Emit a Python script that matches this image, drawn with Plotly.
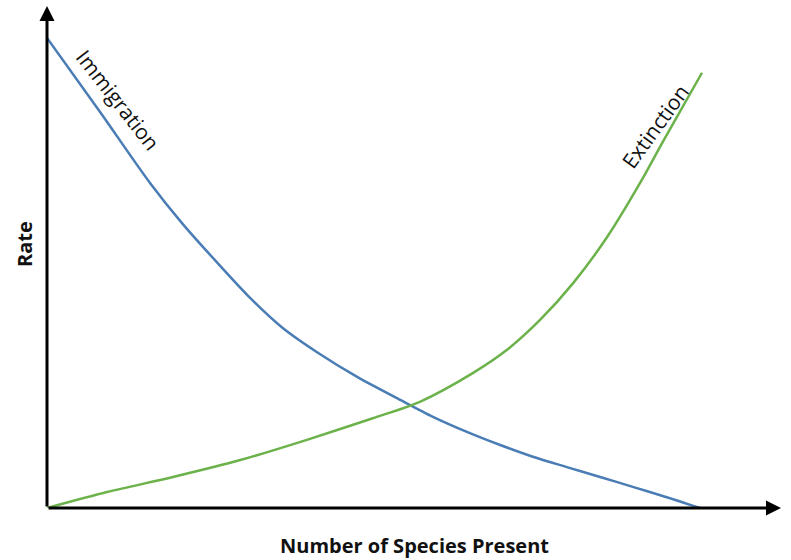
import plotly.graph_objects as go

# Number of species present (relative units) and rates (relative units)
immigration_x = [0, 8.1, 15.8, 20.8, 26.0, 31.1, 36.1, 41.3, 47.5, 54.1, 59.1, 64.3,
                 69.4, 74.4, 79.6, 84.7, 89.7, 94.9, 100]
immigration_y = [100, 84.3, 69.1, 60.4, 52.3, 44.7, 38.3, 33.2, 27.9, 23.0, 19.4, 16.2,
                 13.4, 10.9, 8.7, 6.6, 4.5, 2.3, 0]

extinction_x = [0, 9.2, 19.3, 29.6, 39.8, 49.9, 57.1, 65.2, 70.4, 75.5, 80.6, 85.8,
                90.8, 94.3, 100.3]
extinction_y = [0, 3.4, 6.6, 10.2, 14.5, 19.1, 22.6, 28.7, 33.6, 40.0, 47.9, 57.7,
                69.1, 77.9, 92.6]

curve_labels = ["Immigration", "Extinction"]
x_title = "Number of Species Present"
y_title = "Rate"

X_MAX = 112.4
Y_MAX = 106.8

fig = go.Figure()
fig.add_trace(go.Scatter(x=immigration_x, y=immigration_y, mode="lines",
                         line=dict(color="#4A7DB5", width=2.5, shape="spline", smoothing=0.8),
                         name=curve_labels[0], hoverinfo="skip"))
fig.add_trace(go.Scatter(x=extinction_x, y=extinction_y, mode="lines",
                         line=dict(color="#6CB24A", width=2.5, shape="spline", smoothing=0.8),
                         name=curve_labels[1], hoverinfo="skip"))

# Axis arrows
fig.add_annotation(x=0, y=Y_MAX, ax=0, ay=0, xref="x", yref="y", axref="x", ayref="y",
                   text="", showarrow=True, arrowhead=2, arrowsize=1.0, arrowwidth=3,
                   arrowcolor="black")
fig.add_annotation(x=X_MAX, y=0, ax=0, ay=0, xref="x", yref="y", axref="x", ayref="y",
                   text="", showarrow=True, arrowhead=2, arrowsize=1.0, arrowwidth=3,
                   arrowcolor="black")

# Curve labels
fig.add_annotation(x=10.9, y=86.8, xref="x", yref="y", text=curve_labels[0],
                   showarrow=False, textangle=52,
                   font=dict(family="Open Sans, sans-serif", size=21, color="#111"))
fig.add_annotation(x=93.2, y=81.2, xref="x", yref="y", text=curve_labels[1],
                   showarrow=False, textangle=-54,
                   font=dict(family="Open Sans, sans-serif", size=21, color="#111"))

# Axis titles (placed in pixels, converted to paper coords below)
fig.add_annotation(x=414, y=545, xref="paper", yref="paper", text="<b>" + x_title + "</b>",
                   showarrow=False, xanchor="center", yanchor="middle",
                   font=dict(family="Open Sans, sans-serif", size=20, color="#111"))
fig.add_annotation(x=24, y=244, xref="paper", yref="paper", text="<b>" + y_title + "</b>",
                   showarrow=False, textangle=-90, xanchor="center", yanchor="middle",
                   font=dict(family="Open Sans, sans-serif", size=20, color="#111"))

fig.update_layout(
    width=791, height=560,
    margin=dict(l=47, r=10, t=6, b=52, autoexpand=False),
    paper_bgcolor="white", plot_bgcolor="white",
    showlegend=False,
    xaxis=dict(range=[0, X_MAX], visible=False, fixedrange=True),
    yaxis=dict(range=[0, Y_MAX], visible=False, fixedrange=True),
)

W, H = 791, 560
l, r, t, b = 47, 10, 6, 52
pw, ph = W - l - r, H - t - b
for ann in fig.layout.annotations:
    if ann.xref == "paper":
        px, py = ann.x, ann.y
        ann.x = (px - l) / pw
        ann.y = (H - b - py) / ph

fig.write_html("out.html", config={"displayModeBar": False},
               post_script="document.body.style.margin='0px';")
